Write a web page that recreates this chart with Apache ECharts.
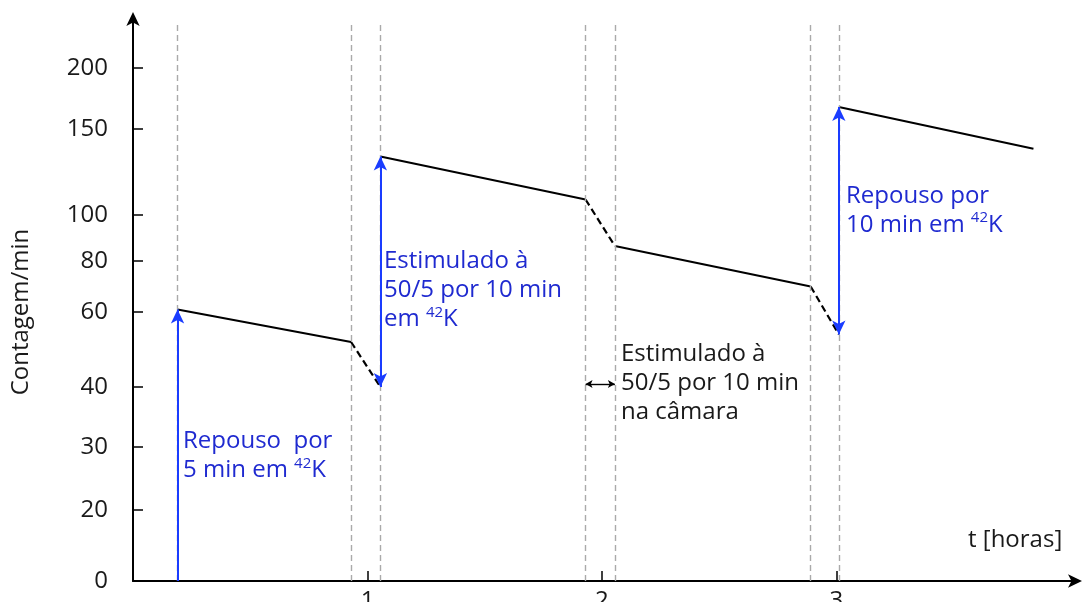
<!DOCTYPE html>
<html><head><meta charset="utf-8">
<script src="https://cdn.jsdelivr.net/npm/echarts@6/dist/echarts.min.js"></script>
<style>html,body{margin:0;padding:0;background:#fff}#c{width:1086px;height:602px}</style>
</head><body><div id="c"></div>
<script>
// ---------- data ----------
const yTickValues = [0, 20, 30, 40, 60, 80, 100, 150, 200];
const yTickLabels = ['0', '20', '30', '40', '60', '80', '100', '150', '200'];
const xTickValues = [1, 2, 3];
const xTickLabels = ['1', '2', '3'];
const guideTimes = [0.19, 0.93, 1.055, 1.93, 2.055, 2.89, 3.01];
const decayTimes = [[0.19, 0.93], [1.055, 1.93], [2.055, 2.89], [3.01, 3.84]];
const decayCounts = [[61, 52], [134, 109], [86.5, 70], [168, 138.5]];
const dropTimes = [[0.93, 1.055], [1.93, 2.055], [2.89, 3.01]];
const dropCounts = [[52, 40], [109, 86.5], [70, 54]];
const arrowTimes = [0.19, 1.055, 3.01];
const arrowFrom = [0, 40, 54];
const arrowTo = [61, 134, 168];
const arrowBoth = [false, true, true];
const chamberTimes = [1.93, 2.055];
const chamberCount = 40.8;

// hand-drawn, non-uniform count axis: height of each tick above the origin (axis units)
const yTickScale = [0, 71, 134, 194, 269, 320, 366, 452, 513];
const Y_AXIS_MAX = 565;
const GUIDE_TOP = 559;

function yScale(v) {
  const n = yTickValues.length;
  let i = 0;
  while (i < n - 2 && v > yTickValues[i + 1]) i++;
  const v0 = yTickValues[i], v1 = yTickValues[i + 1];
  const p0 = yTickScale[i], p1 = yTickScale[i + 1];
  return p0 + (v - v0) / (v1 - v0) * (p1 - p0);
}

const FONT = '"Open Sans", "Noto Sans", sans-serif';
const FS = 24;
const BLUE_LINE = '#1a3cff';
const BLUE_TEXT = '#1f2ad0';
const INK = '#1a1a1a';

const series = [];
decayTimes.forEach((ts, i) => {
  series.push({
    type: 'line', silent: true, animation: false, symbol: 'none',
    data: [[ts[0], yScale(decayCounts[i][0])], [ts[1], yScale(decayCounts[i][1])]],
    lineStyle: { color: '#000', width: 2 }
  });
});
dropTimes.forEach((ts, i) => {
  series.push({
    type: 'line', silent: true, animation: false, symbol: 'none',
    data: [[ts[0], yScale(dropCounts[i][0])], [ts[1], yScale(dropCounts[i][1])]],
    lineStyle: { color: '#000', width: 2.2, type: [7, 4] }
  });
});
series.push({
  type: 'line', silent: true, animation: false, data: [],
  markLine: {
    silent: true, animation: false, symbol: ['none', 'none'],
    label: { show: false },
    lineStyle: { color: '#aaaaaa', width: 1.4, type: [6, 4] },
    data: guideTimes.map(t => [{ coord: [t, 0] }, { coord: [t, GUIDE_TOP] }])
  }
});
series.push({
  type: 'line', silent: true, animation: false, data: [],
  markLine: {
    silent: true, animation: false,
    symbol: ['arrow', 'arrow'], symbolSize: [10, 14],
    label: { show: false },
    lineStyle: { color: BLUE_LINE, width: 2, type: 'solid' },
    data: arrowTimes.map((t, i) => [
      { coord: [t, yScale(arrowFrom[i])], symbol: arrowBoth[i] ? 'arrow' : 'none' },
      { coord: [t, yScale(arrowTo[i])] }
    ])
  }
});
series.push({
  type: 'line', silent: true, animation: false, data: [],
  markLine: {
    silent: true, animation: false,
    symbol: ['arrow', 'arrow'], symbolSize: [6, 7],
    label: { show: false },
    lineStyle: { color: '#000', width: 1.4, type: 'solid' },
    data: [[{ coord: [chamberTimes[0], yScale(chamberCount)] }, { coord: [chamberTimes[1], yScale(chamberCount)] }]]
  }
});

function note(text, x, y, color) {
  return {
    type: 'text', x: x, y: y, silent: true,
    style: {
      text: text, fill: color, fontSize: FS, fontFamily: FONT, lineHeight: 29,
      verticalAlign: 'top', align: 'left',
      rich: { sup: { fill: color, color: color, fontSize: 15, fontFamily: FONT, lineHeight: 29, padding: [0, 0, 14, 0] } }
    }
  };
}

const option = {
  animation: false,
  backgroundColor: '#fff',
  grid: { left: 133, right: 8, top: 16, bottom: 21, containLabel: false, outerBoundsMode: 'none' },
  xAxis: {
    type: 'value', min: 0, max: 4.03,
    axisLine: { show: true, symbol: ['none', 'arrow'], symbolSize: [10, 14], symbolOffset: [0, 4], lineStyle: { color: '#000', width: 2 } },
    axisTick: { show: true, inside: true, length: 10, customValues: xTickValues, lineStyle: { color: '#000', width: 1.5 } },
    axisLabel: {
      customValues: xTickValues, margin: 8, fontSize: FS, fontFamily: FONT, color: INK,
      formatter: v => xTickLabels[xTickValues.indexOf(Math.round(v))] || ''
    },
    splitLine: { show: false }
  },
  yAxis: {
    type: 'value', min: 0, max: Y_AXIS_MAX,
    axisLine: { show: true, symbol: ['none', 'arrow'], symbolSize: [10, 14], symbolOffset: [0, 4], lineStyle: { color: '#000', width: 2 } },
    axisTick: { show: true, inside: true, length: 10, customValues: yTickValues.map(yScale), lineStyle: { color: '#000', width: 1.5 } },
    axisLabel: {
      customValues: yTickValues.map(yScale), margin: 25, fontSize: FS, fontFamily: FONT, color: INK,
      formatter: v => {
        let best = 0, d = 1e9;
        yTickValues.forEach((tv, i) => { const dd = Math.abs(yScale(tv) - v); if (dd < d) { d = dd; best = i; } });
        return yTickLabels[best];
      }
    },
    splitLine: { show: false }
  },
  series: series,
  graphic: [
    {
      type: 'text', x: 21, y: 312, rotation: Math.PI / 2, silent: true,
      style: { text: 'Contagem/min', fill: INK, fontSize: FS, fontFamily: FONT, align: 'center', verticalAlign: 'middle' }
    },
    note('t [horas]', 968, 526, INK),
    note('Repouso  por\n5 min em {sup|42}K', 183, 427, BLUE_TEXT),
    note('Estimulado à\n50/5 por 10 min\nem {sup|42}K', 384, 247, BLUE_TEXT),
    note('Estimulado à\n50/5 por 10 min\nna câmara', 621, 340, INK),
    note('Repouso por\n10 min em {sup|42}K', 846, 181.5, BLUE_TEXT)
  ]
};

const chart = echarts.init(document.getElementById('c'), null, { renderer: 'canvas' });
chart.setOption(option);
</script>
</body></html>
